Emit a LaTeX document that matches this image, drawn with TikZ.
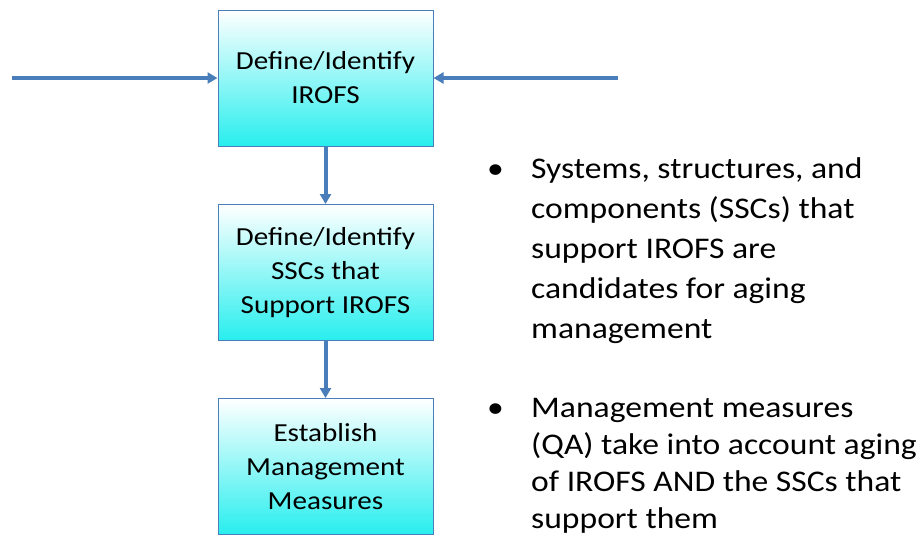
\documentclass[tikz,border=0pt]{standalone}
\usepackage{fontspec}
\setmainfont{Carlito}[FakeStretch=1.12]
\usetikzlibrary{arrows.meta, positioning}

\definecolor{flowblue}{RGB}{74,126,187}
\definecolor{flowcyan}{RGB}{40,238,238}

\tikzset{
    stepbox/.style={draw=flowblue, line width=1pt, top color=white, bottom color=flowcyan,
        minimum width=215pt, minimum height=136pt, inner sep=0pt, align=center,
        font=\fontsize{26}{34}\selectfont},
    flow/.style={draw=flowblue, line width=4pt, -{Triangle[length=10pt, width=11pt]}},
    bullettext/.style={anchor=base west, inner sep=0pt, align=left,
        font=\fontsize{30}{40}\selectfont},
}

\begin{document}
\begin{tikzpicture}[x=1pt, y=-1pt]
    \useasboundingbox (0,0) rectangle (920,542);

    \node[stepbox] (irofs) at (325.5, 78) {Define/Identify\\IROFS};
    \node[stepbox] (sscs) at (325.5, 272.5) {Define/Identify\\SSCs that\\Support IROFS};
    \node[stepbox] (measures) at (325.5, 466.5) {Establish\\Management\\Measures};

    \coordinate (inleft) at (12, 78);
    \coordinate (inright) at (618, 78);

    \draw[flow] (inleft) -- (irofs.west);
    \draw[flow] (inright) -- (irofs.east);
    \draw[flow] (irofs) -- (sscs);
    \draw[flow] (sscs) -- (measures);

    % base anchor sits on the last line
    \node[bullettext] (dotone) at (487, 178) {•};
    \node[bullettext] (noteone) at (531, 338) {Systems, structures, and\\components (SSCs) that\\support IROFS are\\candidates for aging\\management};
    \node[bullettext] (dottwo) at (487, 417) {•};
    \node[bullettext, font=\fontsize{30}{37}\selectfont] (notetwo) at (531, 528) {Management measures\\(QA) take into account aging\\of IROFS AND the SSCs that\\support them};
\end{tikzpicture}
\end{document}
